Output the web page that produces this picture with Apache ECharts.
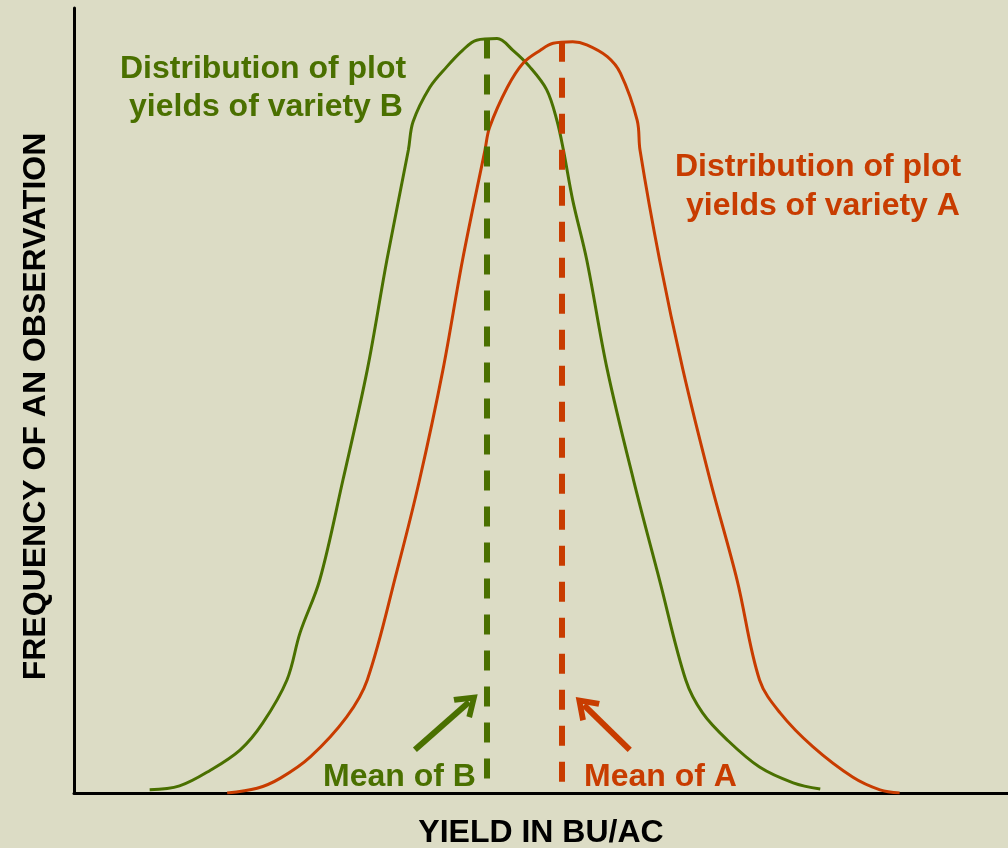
<!DOCTYPE html>
<html>
<head>
<meta charset="utf-8">
<script src="https://cdn.jsdelivr.net/npm/echarts@6/dist/echarts.min.js"></script>
<style>
  html, body { margin: 0; padding: 0; background: #dcdcc5; }
  #chart { width: 1008px; height: 848px; }
</style>
</head>
<body>
<div id="chart"></div>
<script>
// yield (x) and frequency (y), arbitrary 0-100 units
var yieldB = [8.1, 11.3, 14.6, 17.8, 20.2, 22.8, 24.2, 26.3, 28.8, 31.4, 33.5, 35.8, 36.3, 38.1, 39.9, 41.6, 43.1, 45.3, 47.0, 48.8, 50.6, 51.7, 52.4, 53.4, 54.9, 57.1, 59.9, 62.7, 65.5, 67.3, 69.9, 73.4, 77.0, 79.9];
var freqB  = [0.4, 0.9, 2.9, 5.5, 8.9, 14.4, 20.4, 27.1, 39.9, 53.9, 67.9, 81.9, 85.5, 89.9, 92.5, 94.6, 95.9, 96.1, 94.6, 92.5, 89.6, 85.7, 81.9, 75.5, 67.9, 53.9, 39.9, 27.1, 14.4, 10.2, 6.8, 3.3, 1.3, 0.5];

var yieldA = [16.4, 19.6, 22.1, 25.3, 29.2, 31.4, 34.6, 37.0, 39.5, 41.6, 44.0, 44.5, 46.4, 48.1, 49.9, 51.3, 53.4, 54.9, 57.1, 58.5, 60.3, 60.6, 62.7, 65.2, 68.1, 71.0, 73.4, 75.6, 79.1, 83.4, 86.3, 88.4];
var freqA  = [0, 0.6, 1.9, 4.6, 9.7, 14.4, 28.4, 39.9, 53.9, 67.9, 81.9, 84.8, 89.9, 93.0, 94.6, 95.5, 95.7, 95.3, 93.8, 91.7, 85.7, 81.9, 67.9, 53.9, 39.9, 27.1, 14.4, 10.2, 5.9, 2.0, 0.4, 0];

var meanB = 44.2, peakB = 96.1;
var meanA = 52.2, peakA = 95.7;

// arrows pointing at the mean lines: [tail], [head]
var arrowB = [[36.5, 5.5], [42.3, 11.6]];
var arrowA = [[59.5, 5.5], [54.6, 11.2]];

var GREEN = '#4a7000';
var RED = '#c83c00';
var FONT = 'Liberation Sans';
var chevron = 'path://M0,0 L14,20 L9,23 L0,10 L-9,23 L-14,20 Z';

function zip(xs, ys) {
  return xs.map(function (x, i) { return [x, ys[i]]; });
}

function markLines(mean, peak, arrow, color) {
  return {
    silent: true,
    animation: false,
    label: { show: false },
    data: [
      [
        // drawn top-down so the dash pattern starts at the peak
        { coord: [mean, peak], symbol: 'none', lineStyle: { color: color, width: 6, type: [20, 16] } },
        { coord: [mean, 0], symbol: 'none' }
      ],
      [
        { coord: arrow[0], symbol: 'none', lineStyle: { color: color, width: 6, type: 'solid' } },
        { coord: arrow[1], symbol: chevron, symbolSize: [28, 23] }
      ]
    ]
  };
}

// annotation text, placed by the middle of its line
function note(x, y, text, color) {
  return {
    text: text,
    left: x,
    top: y - 16,
    padding: 0,
    textStyle: { color: color, fontSize: 32, fontWeight: 'bold', fontFamily: FONT, lineHeight: 32 }
  };
}

var chart = echarts.init(document.getElementById('chart'));

chart.setOption({
  backgroundColor: '#dcdcc5',
  animation: false,
  title: [
    note(120, 69.5, 'Distribution of plot', GREEN),
    note(129, 107.5, 'yields of variety B', GREEN),
    note(675, 167.5, 'Distribution of plot', RED),
    note(686, 206, 'yields of variety A', RED),
    note(323, 777, 'Mean of B', GREEN),
    note(584, 777, 'Mean of A', RED)
  ],
  grid: { left: 74, right: 0, top: 8, bottom: 55, outerBoundsMode: 'none', containLabel: false },
  xAxis: {
    type: 'value',
    min: 0,
    max: 100,
    name: 'YIELD IN BU/AC',
    nameLocation: 'middle',
    nameGap: 24,
    nameTextStyle: { color: '#000', fontSize: 32, fontWeight: 'bold', fontFamily: FONT },
    axisLine: { lineStyle: { color: '#000', width: 3 } },
    axisTick: { show: false },
    axisLabel: { show: false },
    splitLine: { show: false }
  },
  yAxis: {
    type: 'value',
    min: 0,
    max: 100,
    name: 'FREQUENCY OF AN OBSERVATION',
    nameLocation: 'middle',
    nameGap: 22,
    nameTextStyle: { color: '#000', fontSize: 32, fontWeight: 'bold', fontFamily: FONT, padding: [0, 12, 0, 0] },
    axisLine: { lineStyle: { color: '#000', width: 3 } },
    axisTick: { show: false },
    axisLabel: { show: false },
    splitLine: { show: false }
  },
  series: [
    {
      name: 'Variety B',
      type: 'line',
      data: zip(yieldB, freqB),
      smooth: 0.35,
      showSymbol: false,
      lineStyle: { color: GREEN, width: 3 },
      markLine: markLines(meanB, peakB, arrowB, GREEN)
    },
    {
      name: 'Variety A',
      type: 'line',
      data: zip(yieldA, freqA),
      smooth: 0.35,
      showSymbol: false,
      lineStyle: { color: RED, width: 3 },
      markLine: markLines(meanA, peakA, arrowA, RED)
    }
  ]
});
</script>
</body>
</html>
